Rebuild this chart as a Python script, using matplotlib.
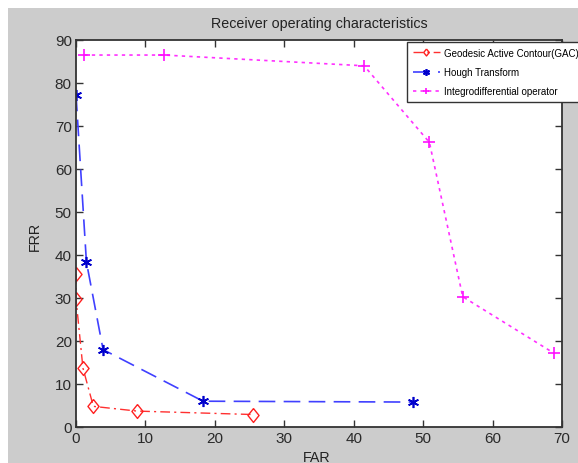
import matplotlib
matplotlib.use("Agg")
from matplotlib import pyplot as plt
from matplotlib.patches import Rectangle

plt.rcParams['font.family'] = ['Liberation Sans', 'DejaVu Sans']

# ROC data (FAR, FRR)
gac_far = [0.0, 0.0, 1.0, 2.5, 8.8, 25.5]
gac_frr = [35.6, 29.8, 13.7, 4.8, 3.7, 2.9]

hough_far = [0.0, 1.5, 3.9, 18.3, 48.5]
hough_frr = [77.3, 38.4, 18.0, 6.0, 5.8]

integro_far = [1.2, 12.7, 41.5, 50.9, 55.7, 68.8]
integro_frr = [86.5, 86.5, 84.0, 66.2, 30.3, 17.2]

labels = ['Geodesic Active Contour(GAC)', 'Hough Transform', 'Integrodifferential operator']

W, H = 578, 464
fig = plt.figure(figsize=(W / 100, H / 100), dpi=100, facecolor='white')

# matlab style grey figure area (image is a crop)
fig.patches.append(Rectangle((8 / W, 0), 1, 1 - 9 / H, transform=fig.transFigure,
                             facecolor='#cccccc', edgecolor='none', zorder=-10))

ax = fig.add_axes([76 / W, 1 - 428 / H, (562 - 76) / W, (428 - 41) / H])

# slightly tall diamond like the matlab one
diamond = [(0, 1), (0.8, 0), (0, -1), (-0.8, 0), (0, 1)]

ax.plot(gac_far, gac_frr, linestyle=(0, (7, 3, 1.5, 3)), color='#ff3030', lw=1.0,
        marker=diamond, markersize=10, markerfacecolor='none', markeredgecolor='#ff2020',
        markeredgewidth=1.0, label=labels[0])
ax.plot(hough_far, hough_frr, linestyle=(0, (10, 5)), color='#4040ff', lw=1.2,
        marker=(6, 2, 0), markersize=8, markeredgewidth=1.2, markeredgecolor='#0000cc',
        label=labels[1])
ax.plot(integro_far, integro_frr, linestyle=(0, (2, 2.5)), color='#ff30ff', lw=1.2,
        marker='+', markersize=9, markeredgewidth=1.2, markeredgecolor='#ff10ff',
        label=labels[2])

ax.set_xlim(0, 70)
ax.set_ylim(0, 90)
ax.set_xticks(range(0, 71, 10))
ax.set_yticks(range(0, 91, 10))
ax.tick_params(direction='in', length=5, width=1.0, top=True, right=True,
               labelsize=11, labelcolor='#2a2a2a', color='#333333', pad=3)
for s in ax.spines.values():
    s.set_color('#333333')
    s.set_linewidth(1.3)

fig.text(319 / W, 1 - 24 / H, 'Receiver operating characteristics', ha='center', va='center',
         fontsize=10.3, color='#222222')
fig.text(35 / W, 1 - 236 / H, 'FRR', rotation=90, ha='center', va='center',
         fontsize=10.3, color='#222222')
fig.text(317 / W, 1 - 451 / H, 'FAR', ha='center', va='top', fontsize=10.3, color='#222222')

leg = ax.legend(loc='upper left', bbox_to_anchor=(407 / W, 1 - 43 / H),
                bbox_transform=fig.transFigure, fontsize=7, frameon=True,
                fancybox=False, handlelength=2.8, handletextpad=0.4,
                labelspacing=0.95, borderpad=0.6, borderaxespad=0)
leg.get_frame().set_edgecolor('#333333')
leg.get_frame().set_linewidth(1.0)
leg.get_frame().set_facecolor('white')
leg.get_frame().set_alpha(1)
for h in leg.legend_handles:
    h.set_markersize(5)

fig.savefig('out.png', dpi=100, facecolor=fig.get_facecolor())
